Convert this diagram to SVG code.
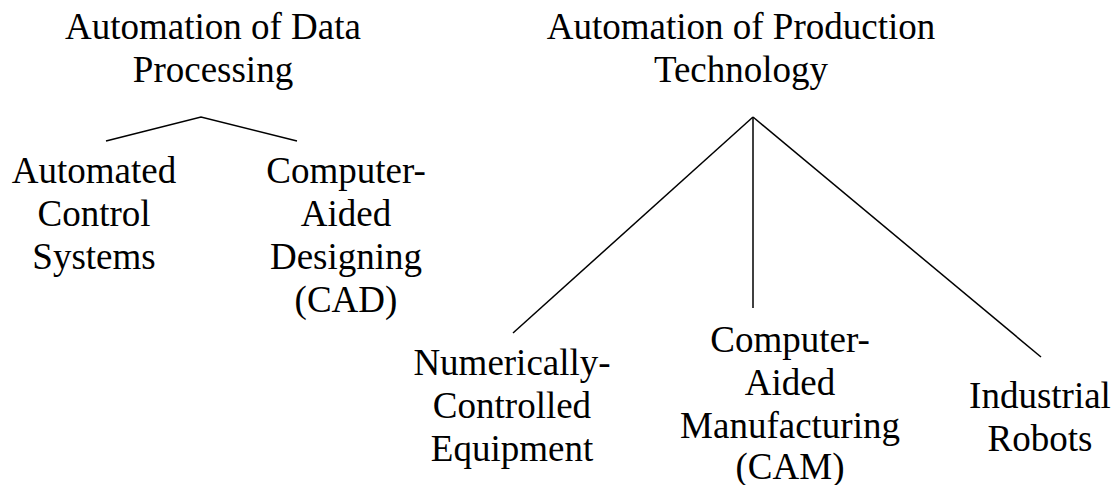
<svg xmlns="http://www.w3.org/2000/svg" width="1117" height="485" viewBox="0 0 1117 485">
  <style>
    .lbl { font-family: "Liberation Serif", Tinos, "Times New Roman", Times, "DejaVu Serif", "Noto Serif", serif; font-size: 37px; fill: #000; text-anchor: middle; }
    .edge { stroke: #000; stroke-width: 1.5; fill: none; }
  </style>
  <rect width="1117" height="485" fill="#fff"/>

  <g id="connectors">
    <polyline class="edge" points="106,141 201,117 297,141"/>
    <line class="edge" x1="753" y1="117" x2="513" y2="333"/>
    <line class="edge" x1="753" y1="117" x2="753" y2="308"/>
    <line class="edge" x1="753" y1="117" x2="1041" y2="357"/>
  </g>

  <g id="data-processing">
    <text class="lbl" x="213" y="39">Automation of Data</text>
    <text class="lbl" x="213" y="82">Processing</text>
  </g>
  <g id="automated-control">
    <text class="lbl" x="94" y="183">Automated</text>
    <text class="lbl" x="94" y="226">Control</text>
    <text class="lbl" x="94" y="269">Systems</text>
  </g>
  <g id="cad">
    <text class="lbl" x="346" y="183">Computer-</text>
    <text class="lbl" x="346" y="226">Aided</text>
    <text class="lbl" x="346" y="269">Designing</text>
    <text class="lbl" x="346" y="312">(CAD)</text>
  </g>

  <g id="production-technology">
    <text class="lbl" x="741" y="39">Automation of Production</text>
    <text class="lbl" x="741" y="82">Technology</text>
  </g>
  <g id="numerical-control">
    <text class="lbl" x="512" y="375">Numerically-</text>
    <text class="lbl" x="512" y="418">Controlled</text>
    <text class="lbl" x="512" y="461">Equipment</text>
  </g>
  <g id="cam">
    <text class="lbl" x="790" y="352">Computer-</text>
    <text class="lbl" x="790" y="395">Aided</text>
    <text class="lbl" x="790" y="438">Manufacturing</text>
    <text class="lbl" x="790" y="479">(CAM)</text>
  </g>
  <g id="robots">
    <text class="lbl" x="1040" y="408">Industrial</text>
    <text class="lbl" x="1040" y="451">Robots</text>
  </g>
</svg>
